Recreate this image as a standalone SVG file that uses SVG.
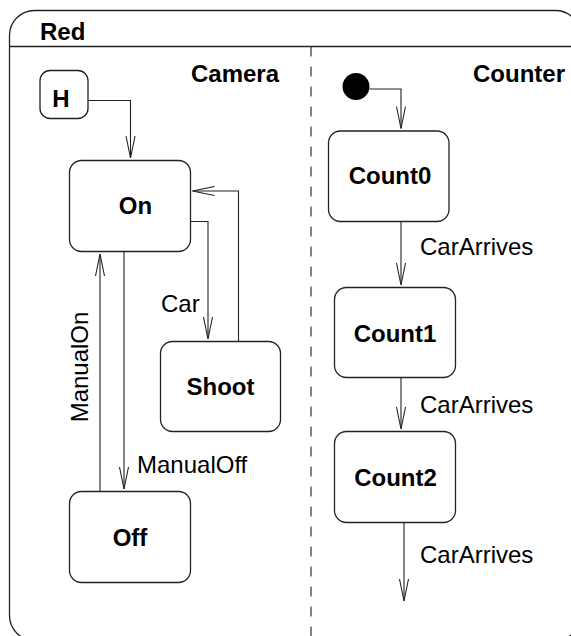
<svg xmlns="http://www.w3.org/2000/svg" width="571" height="636" viewBox="0 0 571 636">
  <defs>
    <style>
      .frame { fill: #ffffff; stroke: #222; stroke-width: 1.3; }
      .state { fill: #ffffff; stroke: #222; stroke-width: 1.3; }
      .edge { fill: none; stroke: #222; stroke-width: 1.1; marker-end: url(#open); }
      .divider { fill: none; stroke: #222; stroke-width: 1.1; stroke-dasharray: 10 10; }
      text { font-family: "Liberation Sans", Arial, Helvetica, sans-serif; font-size: 24px; fill: #000; }
      .bold { font-weight: bold; }
      .mid { text-anchor: middle; }
    </style>
    <!-- open V arrowhead -->
    <marker id="open" viewBox="0 0 24 11" refX="23" refY="5.5" markerWidth="24" markerHeight="11" markerUnits="userSpaceOnUse" orient="auto">
      <path d="M1,1 L23,5.5 L1,10" fill="none" stroke="#222" stroke-width="1.1"/>
    </marker>
  </defs>

  <!-- composite state "Red" with two concurrent regions -->
  <g id="red">
    <rect class="frame" x="9.5" y="10.5" width="571" height="630" rx="25" ry="25"/>
    <path d="M9.5,46.5 H581" fill="none" stroke="#222" stroke-width="1.3"/>
    <text class="bold" x="40" y="40">Red</text>
    <path class="divider" d="M311,46.5 V640"/>
    <text class="bold" x="191" y="82">Camera</text>
    <text class="bold" x="473" y="82">Counter</text>
  </g>

  <!-- Camera region -->
  <g id="history">
    <rect class="state" x="40" y="70.5" width="48" height="48" rx="10" ry="10"/>
    <text class="bold mid" x="61" y="107">H</text>
  </g>
  <g id="on">
    <rect class="state" x="69.5" y="160.5" width="121" height="91" rx="12" ry="12"/>
    <text class="bold mid" x="135.5" y="214">On</text>
  </g>
  <g id="shoot">
    <rect class="state" x="160.5" y="341.5" width="120" height="90" rx="12" ry="12"/>
    <text class="bold mid" x="220.5" y="395">Shoot</text>
  </g>
  <g id="off">
    <rect class="state" x="69.5" y="491.5" width="121" height="91" rx="12" ry="12"/>
    <text class="bold mid" x="130" y="546">Off</text>
  </g>

  <!-- Counter region -->
  <g id="initial">
    <circle cx="356" cy="86.5" r="13.5" fill="#000"/>
  </g>
  <g id="count0">
    <rect class="state" x="328.5" y="131" width="120.5" height="90.5" rx="12" ry="12"/>
    <text class="bold mid" x="390" y="184">Count0</text>
  </g>
  <g id="count1">
    <rect class="state" x="334.5" y="287.5" width="121" height="90" rx="12" ry="12"/>
    <text class="bold mid" x="395" y="342">Count1</text>
  </g>
  <g id="count2">
    <rect class="state" x="334.5" y="431.5" width="121" height="91" rx="12" ry="12"/>
    <text class="bold mid" x="395.5" y="486">Count2</text>
  </g>

  <!-- transitions -->
  <g id="connectors">
    <path class="edge" d="M88,100.5 H130.5 V158"/>
    <path class="edge" d="M190.5,221.5 H208 V339"/>
    <path class="edge" d="M238.5,341.5 V191 H192.5"/>
    <path class="edge" d="M124,251.5 V489"/>
    <path class="edge" d="M100,491.5 V254"/>
    <path class="edge" d="M369.5,89 H401 V128.5"/>
    <path class="edge" d="M401,221.5 V285"/>
    <path class="edge" d="M401,377.5 V429"/>
    <path class="edge" d="M404,522.5 V601"/>

    <text x="161" y="312">Car</text>
    <text x="137" y="473">ManualOff</text>
    <text class="mid" transform="translate(88,367) rotate(-90)">ManualOn</text>
    <text x="420" y="255">CarArrives</text>
    <text x="420" y="413">CarArrives</text>
    <text x="420" y="563">CarArrives</text>
  </g>
</svg>
